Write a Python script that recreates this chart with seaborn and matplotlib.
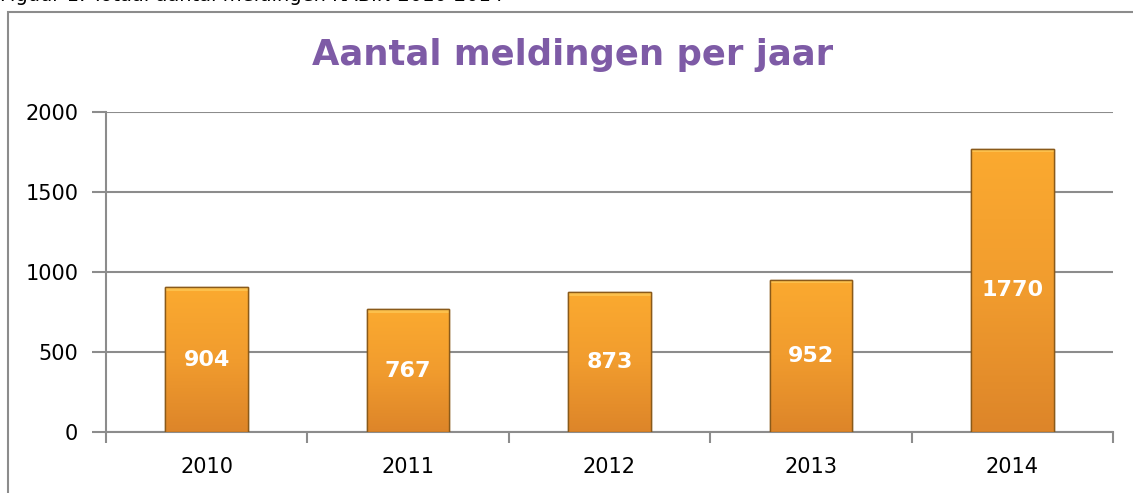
import numpy as np
import pandas as pd
import matplotlib
matplotlib.use("Agg")
import matplotlib.pyplot as plt
import seaborn as sns
from matplotlib.patches import Rectangle
from matplotlib.colors import LinearSegmentedColormap

years = ["2010", "2011", "2012", "2013", "2014"]
counts = [904, 767, 873, 952, 1770]
title = "Aantal meldingen per jaar"
caption = "Figuur 1: Totaal aantal meldingen KABIN 2010-2014"

sns.set_theme(style="white")
plt.rcParams['font.family'] = ['DejaVu Sans']

W, H = 1133, 493
fig = plt.figure(figsize=(W / 100, H / 100), dpi=100)
ax = fig.add_axes([106 / W, 1 - 432 / H, (1113 - 106) / W, (432 - 112) / H])

df = pd.DataFrame({"jaar": years, "aantal": counts})
sns.barplot(data=df, x="jaar", y="aantal", ax=ax, color="#F4A030", width=0.41,
            edgecolor="#8A5A1A", linewidth=1.0, zorder=3)

# gradient fill on the bars
cmap = LinearSegmentedColormap.from_list("og", ["#DD8529", "#F19C2E", "#FBAA30"])
grad = np.linspace(0, 1, 256).reshape(-1, 1)
for p in ax.patches:
    x0, y0 = p.get_x(), p.get_y()
    w, h = p.get_width(), p.get_height()
    im = ax.imshow(grad, cmap=cmap, origin="lower", aspect="auto",
                   extent=[x0, x0 + w, y0, y0 + h], zorder=3.5)
    im.set_clip_path(p)
    # top bevel highlight
    ax.add_patch(Rectangle((x0, y0 + h - 22), w, 22, facecolor="#FFD060",
                           edgecolor="none", alpha=0.6, zorder=3.6))
    ax.add_patch(Rectangle((x0, y0), w, h, facecolor="none",
                           edgecolor="#8A5A1A", linewidth=1.0, zorder=3.7))

for i, v in enumerate(counts):
    ax.text(i, v / 2, str(v), ha="center", va="center", color="white",
            fontsize=16, fontweight="bold", zorder=5)

ax.set_xlim(-0.5, len(years) - 0.5)
ax.set_ylim(0, 2000)
ax.set_yticks([0, 500, 1000, 1500, 2000])
ax.yaxis.grid(True, color="#8C8C8C", linewidth=1.5, zorder=0)
ax.set_axisbelow(True)
ax.set_xlabel("")
ax.set_ylabel("")
for s in ["top", "right"]:
    ax.spines[s].set_visible(False)
for s in ["left", "bottom"]:
    ax.spines[s].set_color("#8C8C8C")
    ax.spines[s].set_linewidth(1.5)

ax.tick_params(axis="y", which="major", left=True, length=10, width=1.5,
               color="#8C8C8C", labelsize=15, pad=10, labelcolor="black")
ax.tick_params(axis="x", which="major", bottom=False, labelsize=15, pad=12,
               labelcolor="black")
ax.set_xticks(np.arange(-0.5, len(years), 1.0), minor=True)
ax.tick_params(axis="x", which="minor", bottom=True, length=8, width=1.5,
               color="#8C8C8C")

fig.text(573 / W, 1 - 55 / H, title, ha="center", va="center",
         fontsize=25.5, fontweight="bold", color="#7E5BA6")

# outer chart border
fig.patches.append(Rectangle((8 / W, -0.1), 1.2, 1 - 12 / H + 0.1,
                             transform=fig.transFigure, facecolor="none",
                             edgecolor="#8C8C8C", linewidth=1.5))
fig.text(0.0, 1 - 1 / H, caption, ha="left", va="baseline", fontsize=14,
         color="black")

fig.savefig("out.png", dpi=100)
